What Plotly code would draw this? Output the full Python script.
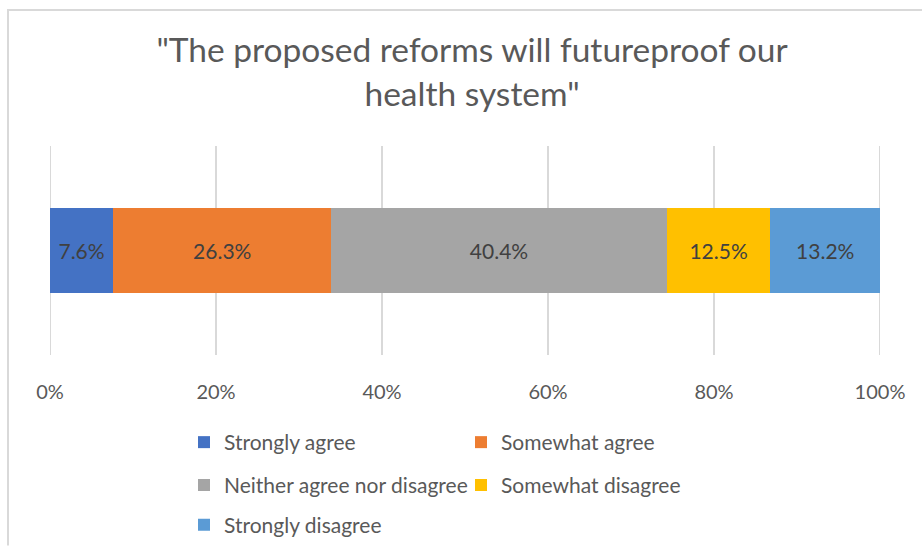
import plotly.graph_objects as go

# Survey responses (share of respondents, %)
categories = ["Strongly agree", "Somewhat agree", "Neither agree nor disagree",
              "Somewhat disagree", "Strongly disagree"]
values = [7.6, 26.3, 40.4, 12.5, 13.2]
colors = ["#4472C4", "#ED7D31", "#A5A5A5", "#FFC000", "#5B9BD5"]
legend_ids = ["legend", "legend", "legend2", "legend2", "legend3"]
tick_vals = [0, 20, 40, 60, 80, 100]
tick_text = ["0%", "20%", "40%", "60%", "80%", "100%"]
row_label = ["All respondents"]
title_text = '"The proposed reforms will futureproof our<br>health system"'

FONT = "Lato"
W, H = 922, 557
ML, MR, MT, MB = 50, 42, 146, 196
PW, PH = W - ML - MR, H - MT - MB


def px_x(px):
    return (px - ML) / PW


def px_y(py):
    return (H - MB - py) / PH


fig = go.Figure()
for name, val, col, lg in zip(categories, values, colors, legend_ids):
    fig.add_trace(go.Bar(
        name=name, x=[val], y=row_label, orientation="h",
        marker=dict(color=col, line=dict(width=0)),
        text=[f"{val:.1f}%"], textposition="inside", insidetextanchor="middle",
        constraintext="none",
        textfont=dict(family=FONT, size=21, color="#404040"),
        legend=lg, hoverinfo="name+x",
    ))

legend_common = dict(
    orientation="h", xanchor="left",
    font=dict(family=FONT, size=21, color="#595959"),
    entrywidth=232, entrywidthmode="pixels",
    bgcolor="rgba(0,0,0,0)", borderwidth=0, traceorder="normal",
)

# Gridlines at the axis ends (0% and 100%)
edge_lines = [dict(type="line", xref="x", yref="paper", x0=v, x1=v, y0=0, y1=1,
                   line=dict(color="#D9D9D9", width=2), layer="below")
              for v in (tick_vals[0], tick_vals[-1])]

# Chart frame: only its top and left edges fall inside the page
frame = [
    dict(type="line", xref="paper", yref="paper",
         x0=px_x(7), x1=px_x(W), y0=px_y(6), y1=px_y(6),
         line=dict(color="#D9D9D9", width=2), layer="below"),
    dict(type="line", xref="paper", yref="paper",
         x0=px_x(8), x1=px_x(8), y0=px_y(5), y1=px_y(H),
         line=dict(color="#D9D9D9", width=2), layer="below"),
]

fig.update_layout(
    width=W, height=H,
    margin=dict(l=ML, r=MR, t=MT, b=MB, pad=0),
    paper_bgcolor="white", plot_bgcolor="white",
    barmode="stack", bargap=0.595,
    title=dict(text=title_text, xref="container", x=0.512, xanchor="center",
               yref="container", y=1 - 62 / H, yanchor="top",
               font=dict(family=FONT, size=33.5, color="#595959")),
    xaxis=dict(range=[0, 100], tickvals=tick_vals, ticktext=tick_text,
               showgrid=True, gridcolor="#D9D9D9", gridwidth=2,
               zeroline=False, showline=False, ticks="",
               ticklabelstandoff=23,
               tickfont=dict(family=FONT, size=20, color="#595959")),
    yaxis=dict(showticklabels=False, showgrid=False, zeroline=False,
               showline=False, range=[-0.5, 0.5]),
    legend=dict(x=px_x(184), y=px_y(451), yanchor="middle", **legend_common),
    legend2=dict(x=px_x(184), y=px_y(495), yanchor="middle", **legend_common),
    legend3=dict(x=px_x(184), y=px_y(H), yanchor="bottom", **legend_common),
    showlegend=True,
    shapes=frame + edge_lines,
)

fig.write_html("out.html")
